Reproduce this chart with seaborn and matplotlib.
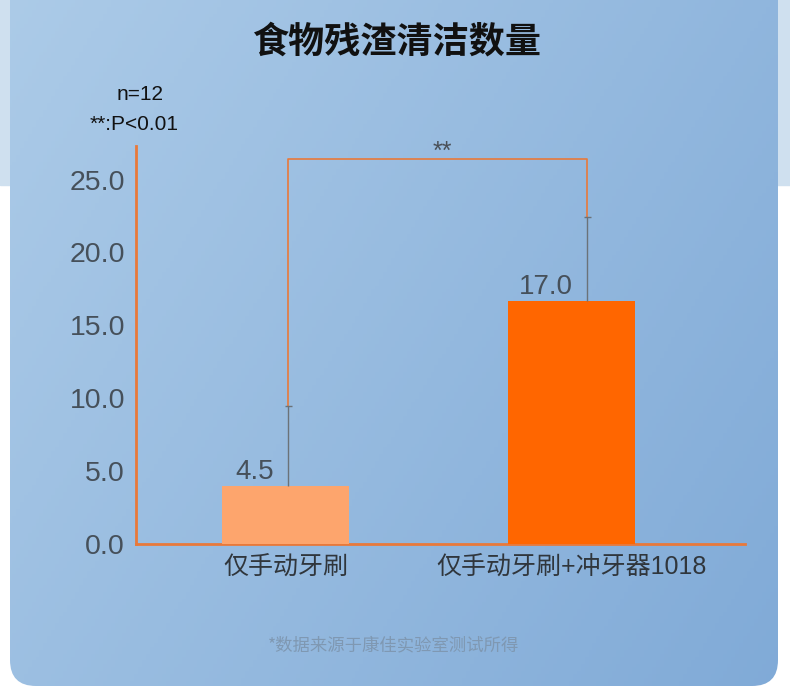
import numpy as np
import pandas as pd
import matplotlib
matplotlib.use('Agg')
import matplotlib.pyplot as plt
import seaborn as sns
from matplotlib.patches import FancyBboxPatch, Rectangle

# data
groups = ['仅手动牙刷', '仅手动牙刷+冲牙器1018']
bar_heights = [4.0, 16.7]
bar_labels = ['4.5', '17.0']
err_tops = [9.5, 22.4]
y_ticks = [0, 5, 10, 15, 20, 25]
bar_colors = ['#fda56d', '#ff6600']

sns.set_style('white')
plt.rcParams['font.family'] = ['Liberation Sans', 'Noto Sans CJK SC', 'DejaVu Sans']
plt.rcParams['axes.unicode_minus'] = False

W, H = 790, 688
fig = plt.figure(figsize=(W / 100, H / 100), dpi=100, facecolor='white')

# background: light strip on top, rounded blue card with gradient
bg = fig.add_axes([0, 0, 1, 1])
bg.set_xlim(0, W)
bg.set_ylim(H, 0)
bg.axis('off')
bg.add_patch(Rectangle((0, 0), W, 185, color='#cfe0ef', zorder=0))
card = FancyBboxPatch((10, -40), 768, 726, boxstyle='round,pad=0,rounding_size=26',
                      facecolor='none', edgecolor='none', zorder=1)
bg.add_patch(card)
c1 = np.array([172, 203, 232]) / 255
c2 = np.array([128, 170, 215]) / 255
gx, gy = np.meshgrid(np.linspace(0, 1, 200), np.linspace(0, 1, 200))
t = (0.65 * gx + 0.35 * gy)[..., None]
grad = c1 * (1 - t) + c2 * t
im = bg.imshow(grad, extent=[0, W, H, 0], zorder=1, aspect='auto')
im.set_clip_path(card)

# main chart
ax = fig.add_axes([136 / W, (H - 544) / H, (745 - 136) / W, (544 - 146) / H])
ax.patch.set_alpha(0)
df = pd.DataFrame({'group': groups, 'value': bar_heights})
sns.barplot(data=df, x='group', y='value', hue='group', palette=bar_colors,
            width=0.445, saturation=1, legend=False, ax=ax, zorder=3,
            edgecolor='none', linewidth=0)

ax.set_xlim(-0.523, 1.607)
ax.set_ylim(0, 27.3)
ax.set_yticks(y_ticks)
ax.set_yticklabels([f'{v:.1f}' for v in y_ticks], fontsize=20.5, color='#46505a')
ax.set_xticks([0, 1])
ax.set_xticklabels(groups, fontsize=18, color='#30363c')
ax.tick_params(axis='y', length=0, pad=8)
ax.tick_params(axis='x', length=0, pad=8)
ax.set_xlabel('')
ax.set_ylabel('')
for s in ['top', 'right']:
    ax.spines[s].set_visible(False)
for s in ['left', 'bottom']:
    ax.spines[s].set_color('#e8793a')
    ax.spines[s].set_linewidth(2)

# upper error bars only, a bit right of the bar centres
err_x = [0.01, 1.055]
ax.vlines(err_x, bar_heights, err_tops, color='#6b7278', lw=1, zorder=4)
ax.hlines(err_tops, [x - 0.012 for x in err_x], [x + 0.012 for x in err_x],
          color='#6b7278', lw=1, zorder=4)

for x, h, lab in zip(err_x, bar_heights, bar_labels):
    ax.text(x - 0.05, h + 0.05, lab, ha='right', va='bottom', fontsize=20, color='#46505a')

# significance bracket
br_y = 26.4
ax.plot([err_x[0], err_x[0], err_x[1], err_x[1]],
        [err_tops[0], br_y, br_y, err_tops[1]],
        color='#e8793a', lw=1.2, zorder=2, clip_on=False)
ax.text(0.55, br_y - 0.3, '**', ha='center', va='bottom', fontsize=18, color='#4a5058')

# texts
fig.text(397 / W, 1 - 42 / H, '食物残渣清洁数量', ha='center', va='center',
         fontsize=26, fontweight='bold', color='#111111', family=['Noto Sans CJK SC'])
fig.text(140 / W, 1 - 95 / H, 'n=12', ha='center', va='center', fontsize=15, color='#111111')
fig.text(134 / W, 1 - 125 / H, '**:P<0.01', ha='center', va='center', fontsize=15, color='#111111')
fig.text(394 / W, 1 - 645 / H, '*数据来源于康佳实验室测试所得', ha='center', va='center',
         fontsize=12.5, color='#7f98b2', family=['Noto Sans CJK SC'])

fig.savefig('out.png', dpi=100, facecolor='white')
